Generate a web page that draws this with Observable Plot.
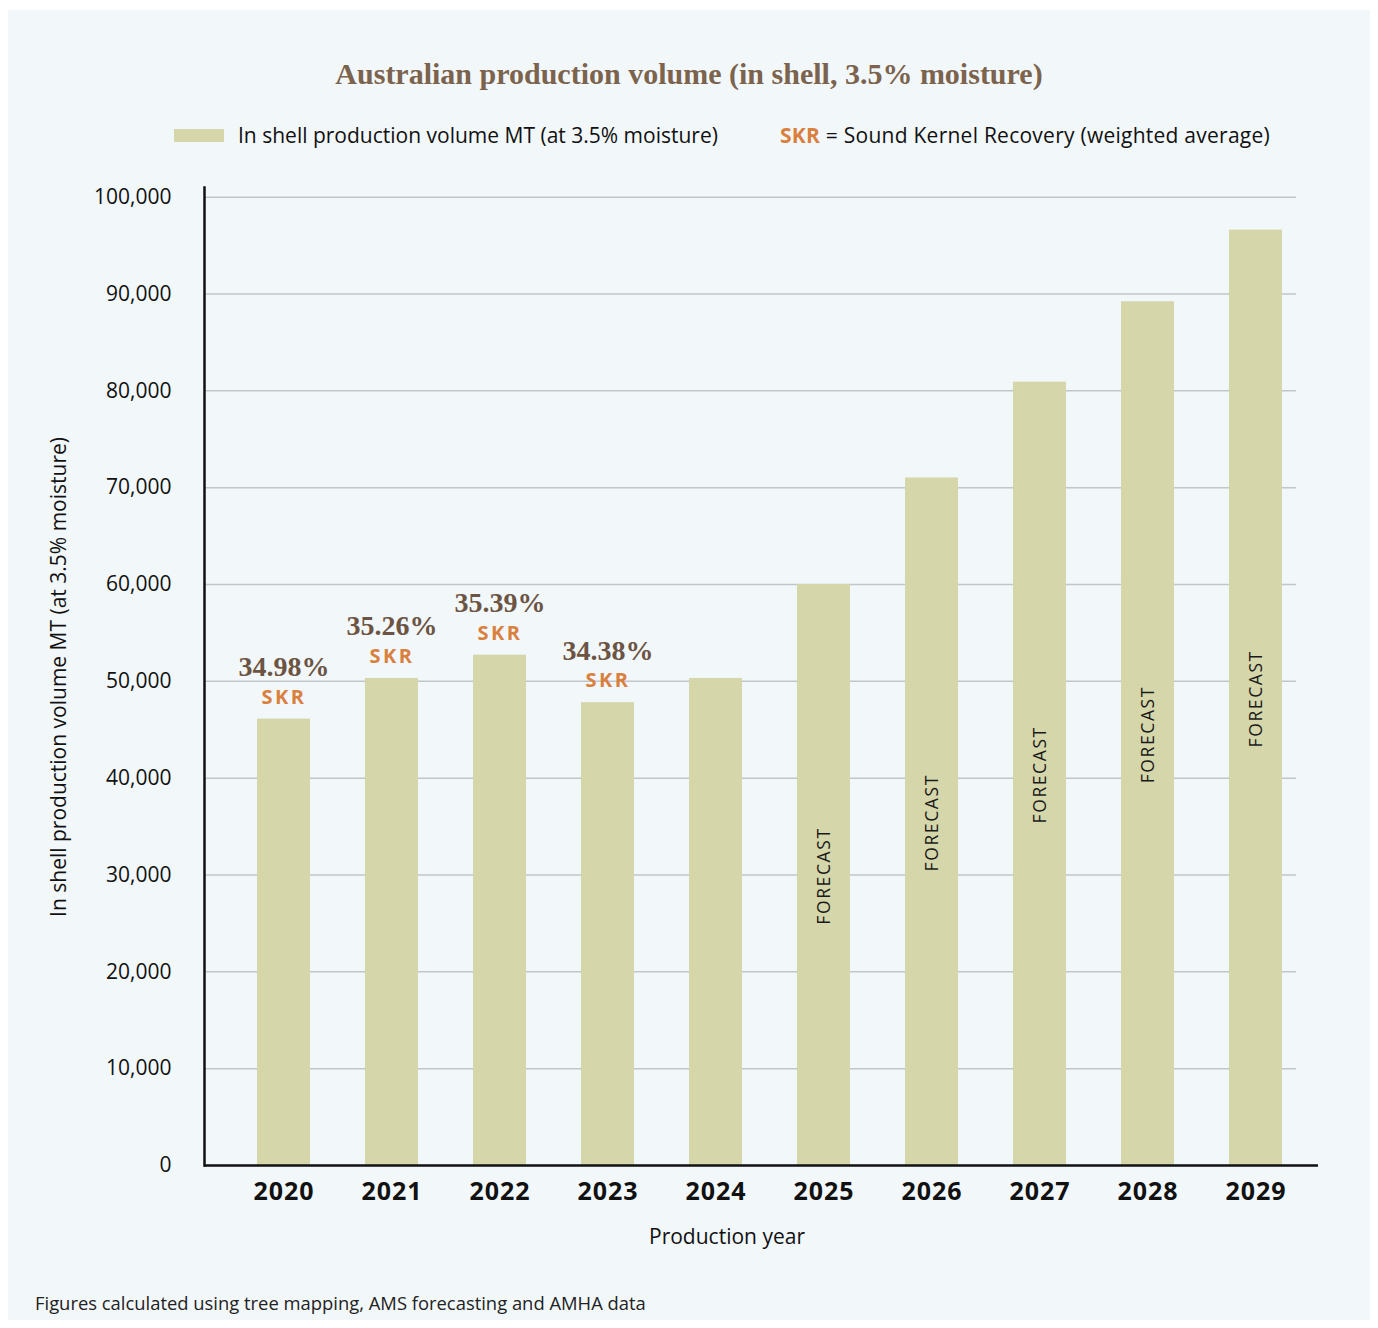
<!DOCTYPE html>
<html><head><meta charset="utf-8">
<script src="https://cdn.jsdelivr.net/npm/d3@7"></script>
<script src="https://cdn.jsdelivr.net/npm/@observablehq/plot@0.6"></script>
<style>
body{margin:0;background:#fff;width:1378px;height:1328px;position:relative;font-family:"Open Sans","Noto Sans",sans-serif;color:#111;}
#panel{position:absolute;left:8px;top:10px;width:1362px;height:1310px;background:#f2f7fa;}
#title{position:absolute;left:0;width:100%;top:46px;line-height:36px;text-align:center;font-family:"Liberation Serif",serif;font-weight:700;font-size:30px;color:#7b634d;}
#legend{position:absolute;left:166px;top:112px;height:26px;line-height:26px;font-size:21px;white-space:nowrap;}
#legend .sw{position:absolute;left:0;top:7px;width:50px;height:13px;background:#d5d6aa;}
#legend .t1{position:absolute;left:64px;top:0;}
#legend .t2{position:absolute;left:606px;top:0;letter-spacing:0.25px;}
#legend b{color:#d9803f;font-weight:700;}
#chart{position:absolute;left:0;top:150px;}
#ylab{position:absolute;left:50px;top:667px;width:0;height:0;}
#ylab span{position:absolute;transform:translate(-50%,-50%) rotate(-90deg);white-space:nowrap;font-size:21px;left:0;top:0;}
#xlab{position:absolute;left:0;top:1212px;width:100%;}
#xlab span{position:absolute;left:719px;transform:translateX(-50%);font-size:21px;white-space:nowrap;}
#foot{position:absolute;left:27px;top:1280px;font-size:18.4px;color:#222;white-space:nowrap;}
</style></head>
<body>
<div id="panel">
  <div id="title">Australian production volume (in shell, 3.5% moisture)</div>
  <div id="legend"><div class="sw"></div><span class="t1">In shell production volume MT (at 3.5% moisture)</span><span class="t2"><b>SKR</b> = Sound Kernel Recovery (weighted average)</span></div>
  <div id="chart"></div>
  <div id="ylab"><span>In shell production volume MT (at 3.5% moisture)</span></div>
  <div id="xlab"><span>Production year</span></div>
  <div id="foot">Figures calculated using tree mapping, AMS forecasting and AMHA data</div>
</div>
<script>
const years = ["2020","2021","2022","2023","2024","2025","2026","2027","2028","2029"];
const volumes = [46100, 50300, 52700, 47800, 50300, 60000, 71000, 80900, 89200, 96600];
const skrYears = ["2020","2021","2022","2023"];
const skrLabels = ["34.98%","35.26%","35.39%","34.38%"];
const forecastYears = ["2025","2026","2027","2028","2029"];
const yTicks = [0,10000,20000,30000,40000,50000,60000,70000,80000,90000,100000];

const data = years.map((y,i)=>({year:y, value:volumes[i]}));
const skr = skrYears.map((y,i)=>({year:y, label:skrLabels[i], value:volumes[years.indexOf(y)]}));
const forecast = data.filter(d=>forecastYears.includes(d.year));

const chart = Plot.plot({
  width:1362, height:1110,
  marginLeft:196, marginRight:52, marginTop:27, marginBottom:105,
  style:{background:"transparent", fontFamily:"'Open Sans', 'Noto Sans', sans-serif", color:"#111"},
  x:{domain:years, paddingInner:0.51, paddingOuter:0.412, align:0.6, label:null},
  y:{domain:[0,101000], label:null},
  marks:[
    Plot.gridY(yTicks.filter(t=>t>0), {stroke:"#c2c6ca", strokeOpacity:1, strokeWidth:1.5, insetRight:22}),
    Plot.barY(data, {x:"year", y:"value", fill:"#d5d6aa"}),
    Plot.text(forecast, {x:"year", y:d=>d.value/2, text:()=>"FORECAST", rotate:-90, dy:1, fontSize:17.5, fill:"#1a1a1a"}),
    Plot.text(skr, {x:"year", y:"value", text:"label", dy:-52, fontSize:28, fontFamily:"Liberation Serif", fontWeight:600, fill:"#6b5443"}),
    Plot.text(skr, {x:"year", y:"value", text:()=>"SKR", dy:-22, fontSize:20, fontWeight:700, fill:"#d9803f"}),
    Plot.ruleY([0], {stroke:"#111", strokeWidth:2.5}),
    Plot.frame({anchor:"left", stroke:"#111", strokeWidth:2.5}),
    Plot.axisY({ticks:yTicks, tickSize:0, tickPadding:33, tickFormat:d3.format(","), fontSize:21, fill:"#111", label:null}),
    Plot.axisX({tickSize:0, tickPadding:17, fontSize:25, fontWeight:700, fill:"#111", label:null})
  ]
});
document.getElementById("chart").appendChild(chart);
d3.select(chart).selectAll("text").filter(function(){return this.textContent==="FORECAST";}).attr("letter-spacing","1.6px");
d3.select(chart).selectAll("text").filter(function(){return this.textContent==="SKR";}).attr("letter-spacing","2.5px");
d3.select(chart).selectAll("text").filter(function(){return /^20\d\d$/.test(this.textContent);}).attr("letter-spacing","1px");
</script>
</body></html>
